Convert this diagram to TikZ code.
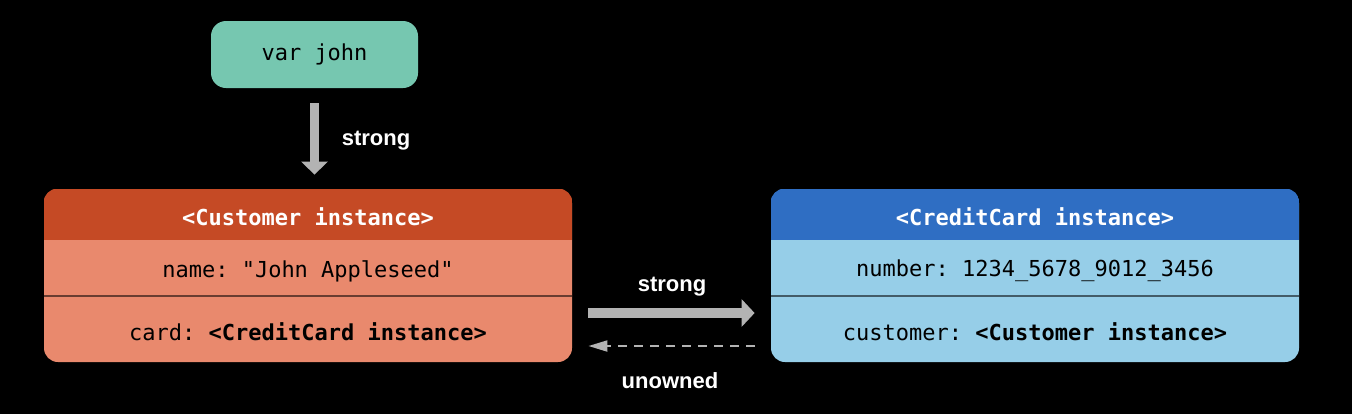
\documentclass[tikz,border=0pt]{standalone}
\usepackage{fontspec}
\setmainfont{Liberation Sans}
\newfontfamily\codefont{DejaVu Sans Mono}
\usetikzlibrary{positioning,arrows.meta}

\definecolor{johngreen}{HTML}{76C7B0}
\definecolor{custhead}{HTML}{C54A25}
\definecolor{custbody}{HTML}{E9896D}
\definecolor{cardhead}{HTML}{2F6EC3}
\definecolor{cardbody}{HTML}{96CEE8}
\definecolor{refgray}{HTML}{B3B3B3}

\begin{document}
\frenchspacing
\begin{tikzpicture}[x=0.5pt,y=-0.5pt,
    code/.style={font=\codefont\fontsize{11}{13}\selectfont},
    varbox/.style={code, fill=johngreen, rounded corners=7.5pt,
        minimum width=103.5pt, minimum height=33.5pt},
    objbox/.style={rounded corners=7pt, minimum width=264pt, minimum height=86.5pt},
    headrow/.style={code, text=white, font=\codefont\bfseries\fontsize{11}{13}\selectfont},
    fieldrow/.style={code},
    divider/.style={line width=1pt, black, draw opacity=0.55},
    reflabel/.style={text=white, font=\bfseries\fontsize{11}{13}\selectfont},
    strongref/.style={refgray, line width=5pt, -{Triangle[width=13.5pt,length=6.5pt]}},
    downref/.style={refgray, line width=4.5pt, -{Triangle[width=13pt,length=6.5pt]}},
    unownedref/.style={refgray, line width=1pt, dash pattern=on 4.5pt off 3.5pt,
        -{Triangle[width=5.5pt,length=9.5pt]}}]

    % fond noir
    \fill[black] (0,0) rectangle (1352,414);
    \useasboundingbox (0,0) rectangle (1352,414);

    % variable
    \node[varbox] (john) at (314.5,54.5) {var john};

    % instance Customer
    \node[objbox, fill=custbody] (cust) at (308,275.5) {};
    \begin{scope}
        \clip[rounded corners=7pt] (cust.north west) rectangle (cust.south east);
        \fill[custhead] (cust.north west) rectangle (cust.east |- 0,240);
    \end{scope}
    \draw[divider] (cust.west |- 0,296) -- (cust.east |- 0,296);
    \node[headrow] (custtitle) at (308,217) {<Customer instance>};
    \node[fieldrow] (custname) at (308,271) {name: "John Appleseed"};
    \node[fieldrow] (custcard) at (308,332) {card: \textbf{<CreditCard instance>}};

    % instance CreditCard
    \node[objbox, fill=cardbody] (card) at (1035,275.5) {};
    \begin{scope}
        \clip[rounded corners=7pt] (card.north west) rectangle (card.south east);
        \fill[cardhead] (card.north west) rectangle (card.east |- 0,240);
    \end{scope}
    \draw[divider] (card.west |- 0,296) -- (card.east |- 0,296);
    \node[headrow] (cardtitle) at (1035,217) {<CreditCard instance>};
    \node[fieldrow] (cardnumber) at (1035,271) {number: 1234\_5678\_9012\_3456};
    \node[fieldrow] (cardcust) at (1035,332) {customer: \textbf{<Customer instance>}};

    % references
    \draw[downref, shorten <=7.5pt, shorten >=7pt] (john.south) -- (john.south |- cust.north);
    \draw[strongref, shorten <=8pt, shorten >=8pt] (cust.east |- 0,313) -- (card.west |- 0,313);
    \draw[unownedref, shorten <=8pt, shorten >=8pt] (card.west |- 0,346) -- (cust.east |- 0,346);

    % etiquettes
    \node[reflabel] (lbljohn) at (376,141) {strong};
    \node[reflabel] (lblstrong) at (672,287) {strong};
    \node[reflabel] (lblunowned) at (670,381) {unowned};
\end{tikzpicture}
\end{document}
